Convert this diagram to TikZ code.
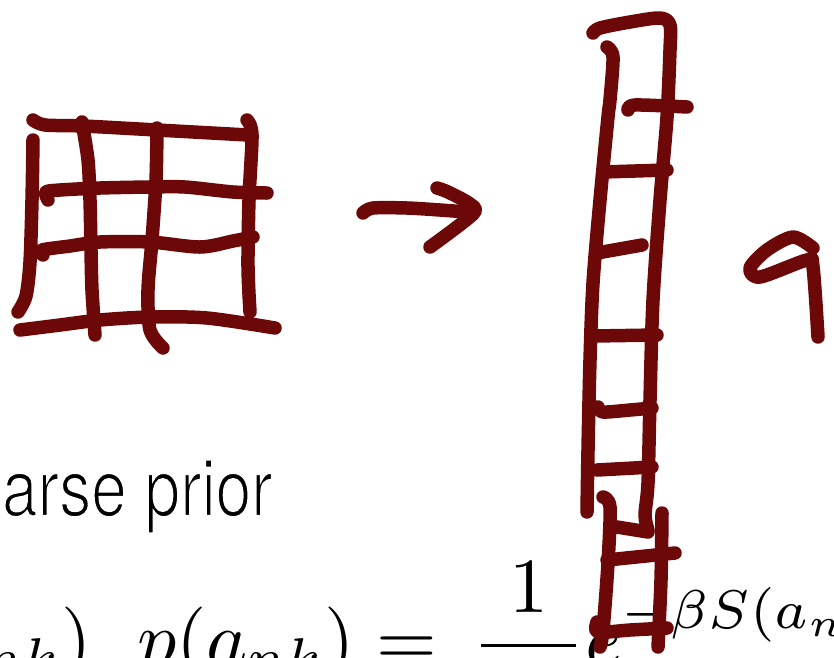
\documentclass[tikz,border=0pt]{standalone}
\usepackage{fontspec}
\setsansfont{TeX Gyre Heros}
\definecolor{inkred}{RGB}{108,8,8}
\newcommand{\thinstart}{\special{pdf:literal q 2 Tr 1 G 0.27 w}}
\newcommand{\thinend}{\special{pdf:literal Q}}
\begin{document}
\begin{tikzpicture}[x=1pt,y=-1pt,
  ink/.style={draw=inkred, line width=13.5pt, line cap=round, line join=round},
  txt/.style={inner sep=0pt, outer sep=0pt, xscale=6.4, yscale=8},
  mth/.style={inner sep=0pt, outer sep=0pt, scale=7.8}]
\useasboundingbox (0,0) rectangle (834,657);
\clip (0,0) rectangle (834,657);
\fill[white] (0,0) rectangle (834,657);
% texts
\node[txt, anchor=base west] (prior) at (2,516) {\thinstart\sffamily arse prior\thinend};
\node[mth, anchor=base east] (frag) at (92,665) {$a_{nk})$};
\node[mth, anchor=base west] (formula) at (137,665) {$\displaystyle p(a_{nk}) = \,\frac{1}{\hspace{2.3pt}Z\hspace{2.3pt}}e^{\raisebox{0.6pt}{$\scriptstyle -\beta S(a_{nk})$}}$};
% grid
\draw[ink] plot[smooth] coordinates {(33,120) (45,125) (83,126) (157,130) (248,135)};
\draw[ink] plot[smooth] coordinates {(33,140) (32,200) (30,262) (26,296) (18,312)};
\draw[ink] plot[smooth] coordinates {(82,122) (88,160) (90,200) (91,250) (92,290) (95,335)};
\draw[ink] plot[smooth] coordinates {(157,128) (156,180) (152,240) (148,290) (150,330) (163,348)};
\draw[ink] plot[smooth] coordinates {(247,120) (252,135) (249,200) (248,267) (250,312)};
\draw[ink] plot[smooth] coordinates {(48,200) (46,192) (60,190) (100,188) (150,187) (185,187) (233,192) (267,193)};
\draw[ink] plot[smooth] coordinates {(43,255) (42,250) (70,246) (100,242) (150,242) (200,247) (233,241) (253,237)};
\draw[ink] plot[smooth] coordinates {(20,330) (60,325) (100,320) (150,317) (207,318) (275,328)};
% arrow
\draw[ink] plot[smooth] coordinates {(363,213) (373,208) (407,208) (440,210) (467,212)};
\draw[ink] plot[smooth] coordinates {(437,188) (448,192) (470,204) (473,214) (430,247)};
% ladder
\draw[ink] plot[smooth] coordinates {(593,33) (600,28) (630,22) (660,18) (670,25) (670,50) (667,117) (660,200) (653,300) (650,400) (648,483) (645,515) (648,530)};
\draw[ink] plot[smooth] coordinates {(607,47) (613,57) (610,100) (608,117) (600,200) (593,283) (590,360) (588,450) (587,512)};
\draw[ink] plot[smooth] coordinates {(603,497) (610,507) (608,563) (603,630) (600,647)};
\draw[ink] plot[smooth] coordinates {(662,513) (661,580) (658,647)};
\draw[ink] plot[smooth] coordinates {(628,110) (635,105) (687,107)};
\draw[ink] (603,172) -- (667,170);
\draw[ink] (597,253) -- (642,245);
\draw[ink] (593,336) -- (657,335);
\draw[ink] plot[smooth] coordinates {(598,407) (603,412) (630,410) (652,408)};
\draw[ink] (597,470) -- (652,467);
\draw[ink] (617,527) -- (648,532);
\draw[ink] (607,560) -- (675,553);
\draw[ink] plot[smooth] coordinates {(597,622) (598,632) (630,630) (667,628)};
% nine
\draw[ink] plot[smooth] coordinates {(813,248) (793,237) (767,250) (750,268) (760,277) (807,260) (813,267) (818,337)};
\end{tikzpicture}
\end{document}
